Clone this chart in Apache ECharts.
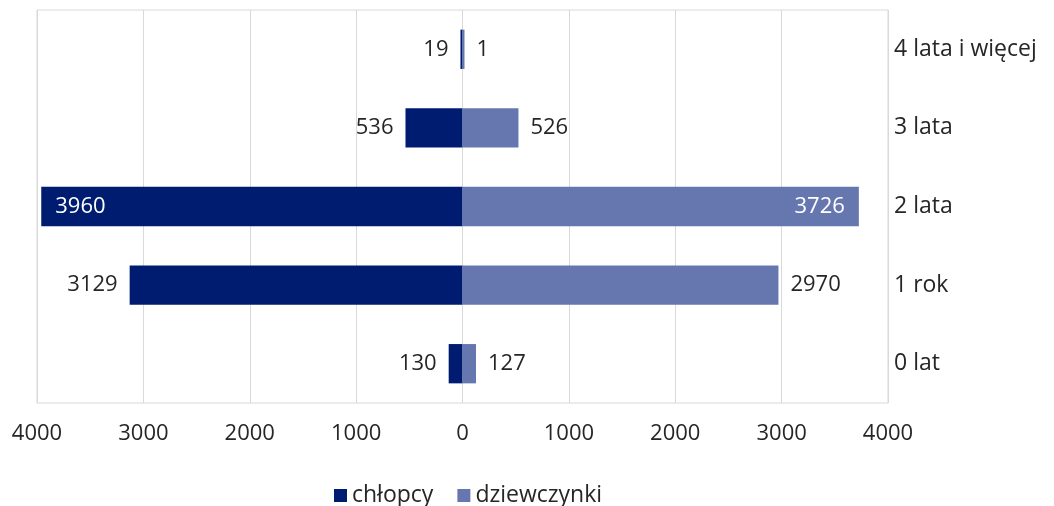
<!DOCTYPE html>
<html><head><meta charset="utf-8">
<script src="https://cdn.jsdelivr.net/npm/echarts@6/dist/echarts.min.js"></script>
<style>html,body{margin:0;padding:0;background:#fff}#c{width:1054px;height:506px}</style>
</head><body><div id="c"></div>
<script>
const categories = ['0 lat', '1 rok', '2 lata', '3 lata', '4 lata i więcej'];
const boys = [130, 3129, 3960, 536, 19];
const girls = [127, 2970, 3726, 526, 1];
const ticks = [-4000, -3000, -2000, -1000, 0, 1000, 2000, 3000, 4000];
const insideBoys = [false, false, true, false, false];
const insideGirls = [false, false, true, false, false];

const FONT = '"Open Sans", "Noto Sans", sans-serif';
const TXT = '#262626';
const chart = echarts.init(document.getElementById('c'));
chart.setOption({
  animation: false,
  textStyle: { fontFamily: FONT },
  grid: { left: 37, right: 166, top: 10, bottom: 103, show: true, borderColor: '#d9d9d9', borderWidth: 1 },
  legend: {
    top: 479, left: 329, itemWidth: 13, itemHeight: 13, itemGap: 24, icon: 'rect',
    textStyle: { fontSize: 23, color: TXT, fontFamily: FONT },
    data: ['chłopcy', 'dziewczynki']
  },
  xAxis: {
    type: 'value', min: -4000, max: 4000, interval: 1000,
    axisLine: { show: false }, axisTick: { show: false },
    splitLine: { lineStyle: { color: '#d9d9d9' } },
    axisLabel: { fontSize: 22, color: TXT, margin: 20, formatter: v => String(Math.abs(v)) }
  },
  yAxis: {
    type: 'category', data: categories, position: 'right',
    axisLine: { show: false }, axisTick: { show: false },
    axisLabel: { fontSize: 23, color: TXT, margin: 6, align: 'left' }
  },
  series: [
    {
      name: 'chłopcy', type: 'bar', stack: 'a', barWidth: '50%', barMinHeight: 2,
      itemStyle: { color: '#001c71' },
      data: boys.map((v, i) => ({
        value: -v,
        label: insideBoys[i]
          ? { show: true, position: 'insideLeft', color: '#fff', distance: 14 }
          : { show: true, position: 'left', color: TXT, distance: 12 }
      })),
      label: { fontSize: 22, fontFamily: FONT, formatter: p => String(Math.abs(p.value)) }
    },
    {
      name: 'dziewczynki', type: 'bar', stack: 'a', barWidth: '50%', barMinHeight: 2,
      itemStyle: { color: '#6677af' },
      data: girls.map((v, i) => ({
        value: v,
        label: insideGirls[i]
          ? { show: true, position: 'insideRight', color: '#fff', distance: 14 }
          : { show: true, position: 'right', color: TXT, distance: 12 }
      })),
      label: { fontSize: 22, fontFamily: FONT, formatter: p => String(p.value) }
    }
  ]
});
</script></body></html>
